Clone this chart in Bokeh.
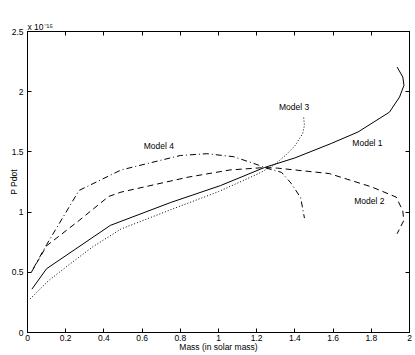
from bokeh.plotting import figure
from bokeh.models import Range1d, FixedTicker, LinearAxis, Label, Title
from bokeh.embed import file_html
from bokeh.resources import INLINE

# ---- data (values in units of 1e-15) ----
m1_x = [0.023, 0.10, 0.434, 0.75, 1.01, 1.24, 1.40, 1.59, 1.73, 1.895, 1.948, 1.971, 1.965, 1.935]
m1_y = [0.36, 0.53, 0.89, 1.08, 1.22, 1.37, 1.45, 1.57, 1.665, 1.83, 1.956, 2.053, 2.122, 2.205]

m2_x = [0.02, 0.10, 0.27, 0.425, 0.49, 0.84, 1.06, 1.24, 1.31, 1.58, 1.80, 1.93, 1.965, 1.97, 1.935]
m2_y = [0.50, 0.72, 0.93, 1.13, 1.166, 1.29, 1.35, 1.37, 1.365, 1.32, 1.21, 1.125, 1.01, 0.93, 0.82]

m3_x = [0.014, 0.11, 0.215, 0.34, 0.49, 0.75, 1.00, 1.21, 1.29, 1.35, 1.40, 1.44, 1.45, 1.445]
m3_y = [0.28, 0.43, 0.56, 0.71, 0.86, 1.02, 1.17, 1.32, 1.39, 1.47, 1.55, 1.65, 1.72, 1.80]

m4_x = [0.03, 0.10, 0.27, 0.49, 0.80, 0.94, 1.08, 1.21, 1.24, 1.33, 1.38, 1.43, 1.45]
m4_y = [0.53, 0.73, 1.18, 1.35, 1.47, 1.485, 1.46, 1.39, 1.37, 1.33, 1.24, 1.12, 0.95]

labels = ["Model 1", "Model 2", "Model 3", "Model 4"]
label_x = [1.78, 1.79, 1.396, 0.688]
label_y = [1.575, 1.09, 1.873, 1.549]

x_ticks = [0, 0.2, 0.4, 0.6, 0.8, 1, 1.2, 1.4, 1.6, 1.8, 2]
x_tick_labels = ["0", "0.2", "0.4", "0.6", "0.8", "1", "1.2", "1.4", "1.6", "1.8", "2"]
y_ticks = [0, 0.5, 1, 1.5, 2, 2.5]
y_tick_labels = ["0", "0.5", "1", "1.5", "2", "2.5"]
exponent_text = "x 10\u207b\u00b9\u2075"

FONT = "Liberation Sans"
FS = "8.5px"

p = figure(width=415, height=355, x_range=Range1d(0, 2), y_range=Range1d(0, 2.5),
           output_backend="svg", toolbar_location=None,
           min_border_left=27, min_border_right=6, min_border_top=31, min_border_bottom=23)
p.grid.visible = False
p.outline_line_color = "black"
p.background_fill_color = "white"
p.border_fill_color = "white"

def style_axis(ax, ticks, overrides, show_labels=True):
    ax.ticker = FixedTicker(ticks=ticks)
    ax.major_tick_in = 4
    ax.major_tick_out = 0
    ax.minor_tick_line_color = None
    ax.axis_line_color = "black"
    ax.major_tick_line_color = "black"
    ax.major_label_text_font = FONT
    if show_labels:
        ax.major_label_overrides = {t: s for t, s in zip(ticks, overrides)}
        ax.major_label_text_font_size = FS
        ax.major_label_text_color = "black"
    else:
        ax.major_label_overrides = {t: "" for t in ticks}
        ax.major_label_text_color = None
        ax.major_label_standoff = 0

style_axis(p.xaxis[0], x_ticks, x_tick_labels)
style_axis(p.yaxis[0], y_ticks, y_tick_labels)
p.xaxis[0].major_label_standoff = 2
p.yaxis[0].major_label_standoff = 4
p.xaxis[0].axis_label = "Mass (in solar mass)"
p.yaxis[0].axis_label = "P Pdot"
for ax in (p.xaxis[0], p.yaxis[0]):
    ax.axis_label_text_font = FONT
    ax.axis_label_text_font_size = FS
    ax.axis_label_text_font_style = "normal"
    ax.axis_label_text_color = "black"
p.xaxis[0].axis_label_standoff = -2
p.yaxis[0].axis_label_standoff = -10

top = LinearAxis()
style_axis(top, x_ticks, x_tick_labels, show_labels=False)
p.add_layout(top, "above")
right = LinearAxis()
style_axis(right, y_ticks, y_tick_labels, show_labels=False)
p.add_layout(right, "right")

p.add_layout(Title(text=exponent_text, align="left", offset=0, standoff=0,
                   text_font=FONT, text_font_size=FS, text_font_style="normal",
                   text_color="black"), "above")

p.line(m1_x, m1_y, line_color="black", line_width=1)
p.line(m2_x, m2_y, line_color="black", line_width=1, line_dash="6 4")
p.line(m3_x, m3_y, line_color="black", line_width=1, line_dash="1 2")
p.line(m4_x, m4_y, line_color="black", line_width=1, line_dash="6 3 1 3")

for t, x, y in zip(labels, label_x, label_y):
    p.add_layout(Label(x=x, y=y, text=t, text_font=FONT, text_font_size=FS,
                       text_align="center", text_baseline="middle", text_color="black"))

open("out.html", "w").write(file_html(p, INLINE))
